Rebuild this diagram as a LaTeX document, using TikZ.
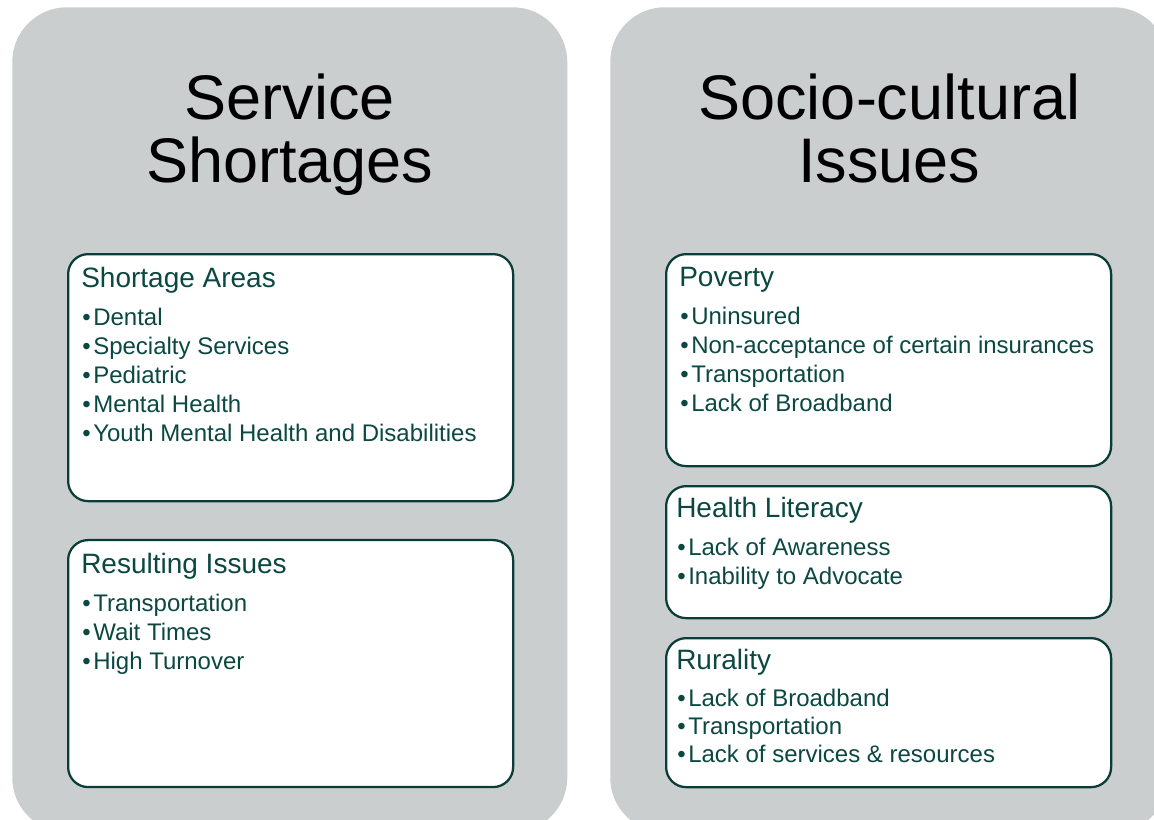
\documentclass[tikz,border=0pt]{standalone}
\usepackage{fontspec}
\setmainfont{Liberation Sans}
\usepackage{tikz}
\usetikzlibrary{positioning}
\definecolor{panelgray}{HTML}{CACECF}
\definecolor{inkteal}{HTML}{0C4842}
\definecolor{edgeteal}{HTML}{0B3D38}
\tikzstyle{panel} = [rectangle, rounded corners=41pt, fill=panelgray, draw=none, minimum width=416.25pt, minimum height=618.75pt, anchor=north west, inner sep=0pt]
\tikzstyle{title} = [align=center, inner sep=0pt, font=\fontsize{47.25}{47.25}\selectfont]
\tikzstyle{card} = [rectangle, rounded corners=15pt, draw=edgeteal, line width=1.7pt, fill=white, minimum width=333.75pt, anchor=north west, inner sep=0pt]
\tikzstyle{cardtext} = [align=left, inner sep=0pt, text=inkteal, font=\fontsize{18}{21.75}\selectfont]
\newcommand{\cardhead}[1]{{\fontsize{21}{21}\selectfont #1}\\[6.75pt]}
\newcommand{\bul}{\makebox[9pt][l]{\hspace{0.75pt}\textbullet}}

\begin{document}
\begin{tikzpicture}[x=0.75pt, y=-0.75pt]
  \useasboundingbox (0,0) rectangle (1154,819);
  \clip (0,0) rectangle (1154,819);

  % the two grey columns
  \node[panel] (lpanel) at (12,7) {};
  \node[panel, minimum width=418.5pt] (rpanel) at (610,7) {};
  \node[title, below=50.25pt of lpanel.north] (ltitle) {Service\\Shortages};
  \node[title, below=50.25pt of rpanel.north] (rtitle) {Socio-cultural\\Issues};

  % left column
  \node[card, minimum height=185.25pt] (areas) at (67,253) {};
  \node[card, minimum height=185.25pt, below=27.5pt of areas] (results) {};
  \node[cardtext, below right=10.5pt and 10.5pt of areas.north west] (areastext) {\cardhead{Shortage Areas}\bul Dental\\
    \bul Specialty Services\\
    \bul Pediatric\\
    \bul Mental Health\\
    \bul Youth Mental Health and Disabilities};
  \node[cardtext, below right=10.5pt and 10.5pt of results.north west] (resultstext) {\cardhead{Resulting Issues}\bul Transportation\\
    \bul Wait Times\\
    \bul High Turnover};

  % right column
  \node[card, minimum height=159pt] (poverty) at (665,253) {};
  \node[card, minimum height=99pt, below=13.3pt of poverty] (literacy) {};
  \node[card, minimum height=111.75pt, below=13.3pt of literacy] (rurality) {};
  \node[cardtext, below right=10.5pt and 10.5pt of poverty.north west] (povertytext) {\cardhead{Poverty}\bul Uninsured\\
    \bul Non-acceptance of certain insurances\\
    \bul Transportation\\
    \bul Lack of Broadband};
  \node[cardtext, below right=9pt and 8.25pt of literacy.north west] (literacytext) {\cardhead{Health Literacy}\bul Lack of Awareness\\
    \bul Inability to Advocate};
  \node[cardtext, font=\fontsize{18}{21}\selectfont, below right=9pt and 8.25pt of rurality.north west] (ruralitytext) {\cardhead{Rurality}\bul Lack of Broadband\\
    \bul Transportation\\
    \bul Lack of services \& resources};
\end{tikzpicture}
\end{document}
